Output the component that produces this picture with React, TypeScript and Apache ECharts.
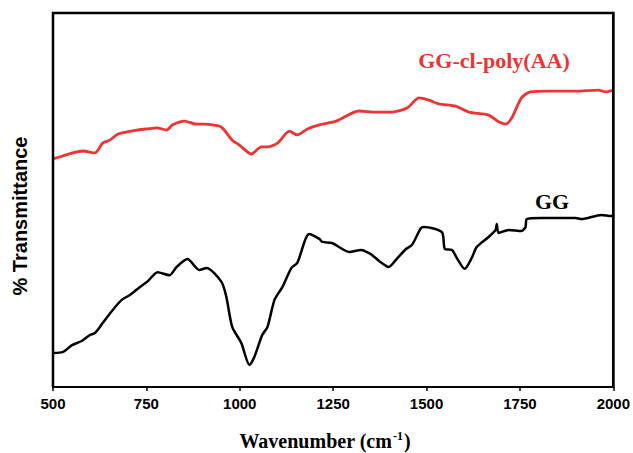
import React, { useEffect, useRef } from "react";
import * as echarts from "echarts";

const xTicks = [500, 750, 1000, 1250, 1500, 1750, 2000];

const ggWave = [500, 527, 551, 577, 599, 612, 633, 660, 684, 706, 732, 754, 780, 812, 831, 860, 892, 911, 951, 964, 980, 1004, 1026, 1039, 1060, 1074, 1093, 1114, 1138, 1154, 1186, 1213, 1221, 1247, 1293, 1325, 1346, 1354, 1373, 1399, 1418, 1445, 1461, 1485, 1493, 1541, 1549, 1568, 1581, 1602, 1621, 1634, 1666, 1685, 1688, 1693, 1720, 1754, 1765, 1768, 1808, 1899, 1915, 1968, 1995, 2000];
const ggT = [9.1, 9.4, 11.2, 12.3, 13.9, 14.4, 17.1, 20.6, 23.3, 24.6, 26.7, 28.3, 30.7, 29.9, 32.1, 34.2, 31.3, 31.8, 28.1, 24.1, 16.0, 11.8, 5.9, 8.0, 13.9, 16.0, 23.3, 26.7, 31.8, 33.2, 40.9, 39.6, 38.8, 38.5, 36.1, 36.6, 35.8, 35.3, 33.7, 32.1, 34.0, 36.9, 38.0, 42.5, 42.8, 41.4, 36.9, 36.6, 34.5, 31.6, 34.5, 37.4, 40.1, 42.0, 43.6, 41.2, 42.0, 41.7, 42.8, 44.9, 45.2, 45.2, 44.9, 46.0, 45.7, 45.7];

const paaWave = [500, 527, 553, 580, 612, 633, 652, 673, 698, 724, 751, 778, 804, 820, 852, 884, 906, 927, 951, 980, 999, 1031, 1058, 1074, 1101, 1133, 1154, 1181, 1213, 1258, 1319, 1365, 1407, 1448, 1480, 1506, 1533, 1578, 1613, 1666, 1693, 1712, 1728, 1754, 1778, 1827, 1899, 1960, 1981, 2000];
const paaT = [61.0, 61.8, 62.6, 63.1, 62.6, 65.2, 66.0, 67.6, 68.2, 68.7, 69.0, 69.3, 68.7, 70.1, 71.1, 70.3, 70.3, 70.1, 69.5, 66.0, 64.7, 62.3, 64.2, 64.2, 65.2, 68.4, 67.4, 69.0, 70.1, 71.1, 73.8, 73.5, 73.5, 74.6, 77.3, 76.7, 75.7, 75.1, 73.5, 72.7, 70.9, 70.3, 71.9, 77.3, 78.9, 79.1, 79.1, 79.4, 78.9, 79.4];

const seriesNames = ["GG", "GG-cl-poly(AA)"];
const RED = "#ec3434";
const X_MIN = 500;
const X_MAX = 2000;
const Y_MIN = 0;
const Y_MAX = 100;

export default function App() {
  const ref = useRef<HTMLDivElement>(null);
  useEffect(() => {
    document.body.style.margin = "0";
    if (!ref.current) return;
    const chart = echarts.init(ref.current, null, { renderer: "svg" });
    const zip = (xs: number[], ys: number[]) => xs.map((x, i) => [x, ys[i]]);
    const frame = { show: true, onZero: false, lineStyle: { color: "#000", width: 2 } };
    chart.setOption({
      animation: false,
      backgroundColor: "#ffffff",
      grid: { left: 53, right: 18, top: 13, bottom: 66, show: true, backgroundColor: "transparent", borderColor: "#000", borderWidth: 2 },
      xAxis: {
        type: "value",
        min: X_MIN,
        max: X_MAX,
        interval: 250,
        axisLine: frame,
        axisTick: { show: true, length: 4, lineStyle: { color: "#000", width: 1.5 } },
        axisLabel: {
          margin: 9,
          color: "#000",
          fontFamily: "Liberation Sans",
          fontWeight: "bold",
          fontSize: 15,
          formatter: (v: number) => (xTicks.includes(v) ? String(v) : ""),
        },
        splitLine: { show: false },
      },
      yAxis: {
        type: "value",
        min: Y_MIN,
        max: Y_MAX,
        axisLine: frame,
        axisTick: { show: false },
        axisLabel: { show: false },
        splitLine: { show: false },
      },
      series: [
        {
          name: seriesNames[0],
          type: "line",
          data: zip(ggWave, ggT),
          showSymbol: false,
          smooth: 0.25,
          lineStyle: { color: "#000", width: 2.5 },
        },
        {
          name: seriesNames[1],
          type: "line",
          data: zip(paaWave, paaT),
          showSymbol: false,
          smooth: 0.25,
          lineStyle: { color: RED, width: 2.8 },
        },
      ],
    });
    const tl = chart.convertToPixel({ xAxisIndex: 0, yAxisIndex: 0 }, [X_MIN, Y_MAX]) as number[];
    const br = chart.convertToPixel({ xAxisIndex: 0, yAxisIndex: 0 }, [X_MAX, Y_MIN]) as number[];
    const x0 = tl && isFinite(tl[0]) ? tl[0] : 53;
    const y0 = tl && isFinite(tl[1]) ? tl[1] : 13;
    const x1 = br && isFinite(br[0]) ? br[0] : 615;
    const y1 = br && isFinite(br[1]) ? br[1] : 387;
    chart.setOption({
      graphic: [
        {
          type: "polyline",
          z: 100,
          shape: { points: [[x0, y1], [x0, y0], [x1, y0], [x1, y1]] },
          style: { stroke: "#000000", lineWidth: 2.5, fill: null },
        },
        {
          type: "text",
          x: 494,
          y: 60,
          style: {
            text: seriesNames[1],
            fill: RED,
            font: "bold 22px 'Liberation Serif'",
            align: "center",
            verticalAlign: "middle",
          },
        },
        {
          type: "text",
          x: 552,
          y: 201,
          style: {
            text: seriesNames[0],
            fill: "#000",
            font: "bold 22px 'Liberation Serif'",
            align: "center",
            verticalAlign: "middle",
          },
        },
        {
          type: "text",
          x: 20,
          y: 216,
          rotation: Math.PI / 2,
          style: {
            text: "% Transmittance",
            fill: "#000",
            font: "bold 20px 'Liberation Sans'",
            align: "center",
            verticalAlign: "middle",
          },
        },
        {
          type: "text",
          x: 325,
          y: 441,
          style: {
            text: "{a|Wavenumber (cm}{b|-1}{a|)}",
            fill: "#000",
            align: "center",
            verticalAlign: "middle",
            rich: {
              a: { fontFamily: "Liberation Serif", fontWeight: "bold", fontSize: 20, lineHeight: 22 },
              b: { fontFamily: "Liberation Serif", fontWeight: "bold", fontSize: 12, verticalAlign: "top", lineHeight: 12, padding: [0, 1, 0, 1] },
            },
          },
        },
      ],
    });
    return () => chart.dispose();
  }, []);
  return <div ref={ref} style={{ width: 633, height: 453 }} />;
}
